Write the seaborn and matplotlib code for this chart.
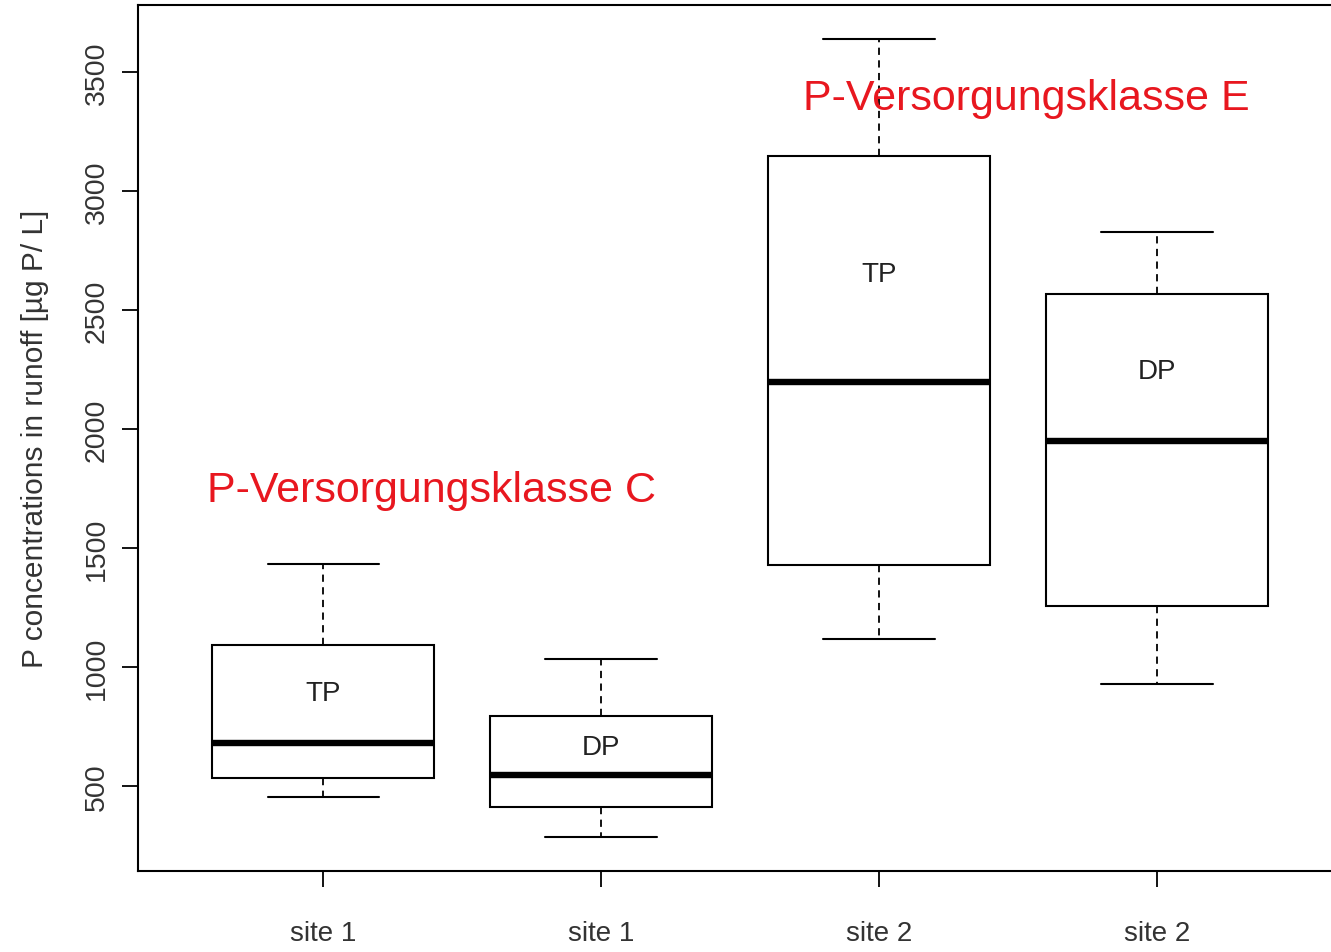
import numpy as np
import pandas as pd
import matplotlib
matplotlib.use("Agg")
import matplotlib.pyplot as plt
import seaborn as sns

# ---- data ----
sites = ["site 1", "site 1", "site 2", "site 2"]
fractions = ["TP", "DP", "TP", "DP"]
lower_whisker = [454, 286, 1118, 929]
q1 = [534, 412, 1429, 1256]
median = [680, 546, 2197, 1950]
q3 = [1092, 794, 3147, 2567]
upper_whisker = [1433, 1034, 3639, 2828]
label_y = [891, 664, 2652, 2244]
yticks = [500, 1000, 1500, 2000, 2500, 3000, 3500]
ylabel = "P concentrations in runoff [µg P/ L]"
class_labels = ["P-Versorgungsklasse C", "P-Versorgungsklasse E"]
class_pos = [(-0.417, 1743), (1.727, 3390)]

rows = []
for i, (s, f) in enumerate(zip(sites, fractions)):
    key = f"{s} {f} {i}"
    for v in (lower_whisker[i], q1[i], median[i], q3[i], upper_whisker[i]):
        rows.append({"group": key, "value": v})
df = pd.DataFrame(rows)
order = list(dict.fromkeys(df["group"]))

sns.set_style("white")
plt.rcParams["font.family"] = ["Liberation Sans", "DejaVu Sans"]

W, H = 1331, 953
fig = plt.figure(figsize=(W / 100, H / 100), dpi=100)
ax = fig.add_axes([138 / W, 1 - 872 / H, (W - 138) / W, (872 - 6) / H])

sns.boxplot(
    data=df, x="group", y="value", order=order, ax=ax,
    color="white", linecolor="black", linewidth=1.5, width=0.8,
    whis=(0, 100), fill=True,
    boxprops=dict(facecolor="white", edgecolor="black", linewidth=1.5),
    medianprops=dict(color="black", linewidth=4.6, solid_capstyle="butt"),
    whiskerprops=dict(color="black", linewidth=1.3, linestyle=(0, (4, 3))),
    capprops=dict(color="black", linewidth=1.5),
)

ax.set_xlim(-0.666, 3.626)
ax.set_ylim(143, 3781)
ax.set_yticks(yticks)
ax.set_yticklabels([str(t) for t in yticks], rotation=90, va="center",
                   fontsize=20.5, color="#333333")
ax.set_xticks(range(len(sites)))
ax.set_xticklabels(sites, fontsize=20, color="#333333")
ax.set_xlabel("")
ax.set_ylabel(ylabel, fontsize=21.5, color="#333333", labelpad=25)
ax.tick_params(axis="both", direction="out", length=11.5, width=1.3,
               color="black", left=True, bottom=True)
ax.tick_params(axis="y", pad=9)
ax.tick_params(axis="x", pad=24)

for side in ["left", "bottom", "top"]:
    ax.spines[side].set_visible(True)
    ax.spines[side].set_color("black")
    ax.spines[side].set_linewidth(1.5)
ax.spines["right"].set_visible(False)

for i, f in enumerate(fractions):
    ax.text(i, label_y[i], f, ha="center", va="center", fontsize=20,
            color="#222222")

for lab, (x, y) in zip(class_labels, class_pos):
    ax.text(x, y, lab, ha="left", va="center", fontsize=31,
            color="#e8171f")

fig.savefig("out.png", dpi=100)
